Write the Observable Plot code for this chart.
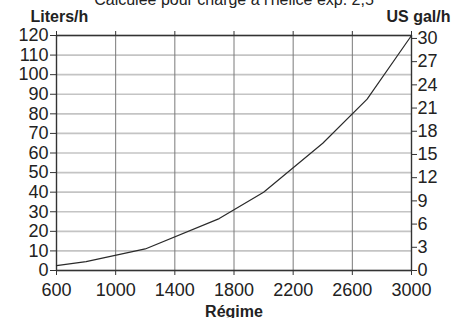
<!DOCTYPE html>
<html>
<head>
<meta charset="utf-8">
<script src="https://cdn.jsdelivr.net/npm/d3@7"></script>
<script src="https://cdn.jsdelivr.net/npm/@observablehq/plot@0.6"></script>
<style>
  html, body { margin: 0; padding: 0; background: #fff; overflow: hidden; }
  #chart svg { display: block; }
</style>
</head>
<body>
<div id="chart"></div>
<script>
// Data
const rpm = [600, 800, 1200, 1700, 2000, 2400, 2700, 3000];
const litersPerHour = [2.5, 4.5, 11, 26.5, 40, 65, 87.5, 120];

// Tick values
const xTicks = [600, 1000, 1400, 1800, 2200, 2600, 3000];
const literTicks = [0, 10, 20, 30, 40, 50, 60, 70, 80, 90, 100, 110, 120];
const galTicks = [0, 3, 6, 9, 12, 15, 18, 21, 24, 27, 30];
const litersPerGalAsDrawn = 3.95; // right scale as printed on the reference

// Texts
const titleText = "Calculée pour charge à l'hélice exp. 2,5";
const leftUnit = "Liters/h";
const rightUnit = "US gal/h";
const xLabel = "Régime";

const data = rpm.map((r, i) => ({rpm: r, lph: litersPerHour[i]}));
const font = "Liberation Sans, Arial, Helvetica, sans-serif";

const chart = Plot.plot({
  width: 465,
  height: 318,
  marginTop: 35,
  marginRight: 54,
  marginBottom: 48,
  marginLeft: 56,
  style: {fontFamily: font, fontSize: "18px", color: "#222", background: "#fff", overflow: "visible"},
  x: {domain: [600, 3000]},
  y: {domain: [0, 120]},
  marks: [
    Plot.gridY(literTicks, {stroke: "#c4c4c4", strokeOpacity: 1, strokeWidth: 1.6}),
    Plot.gridX(xTicks, {stroke: "#7a7a7a", strokeOpacity: 1, strokeWidth: 1}),
    Plot.ruleY([0, 120], {stroke: "#333", strokeWidth: 1.4}),
    Plot.ruleX([600, 3000], {stroke: "#333", strokeWidth: 1.4}),
    Plot.line(data, {x: "rpm", y: "lph", stroke: "#2a2a2a", strokeWidth: 1.2}),
    Plot.axisY(literTicks, {anchor: "left", tickSize: 6, tickPadding: 2, label: null, fontSize: 18, stroke: "#333"}),
    Plot.axisY(galTicks.map(g => g * litersPerGalAsDrawn), {
      anchor: "right", tickSize: 5, tickPadding: 1, label: null, fontSize: 18, stroke: "#333",
      tickFormat: d => String(Math.round(d / litersPerGalAsDrawn))
    }),
    Plot.axisX(xTicks, {anchor: "bottom", tickSize: 5, tickPadding: 8, label: null, fontSize: 18, stroke: "#333", tickFormat: d => String(d)}),
    Plot.axisX(xTicks, {anchor: "top", tickSize: 5, label: null, tickFormat: () => "", stroke: "#333"}),
    Plot.text([titleText], {frameAnchor: "top", dy: -31, lineAnchor: "bottom", fontSize: 16, fill: "#222"}),
    Plot.text([leftUnit], {frameAnchor: "top-left", textAnchor: "start", dx: -26, dy: -14, lineAnchor: "bottom", fontSize: 16, fontWeight: "bold", fill: "#222"}),
    Plot.text([rightUnit], {frameAnchor: "top-right", textAnchor: "end", dx: 39, dy: -14, lineAnchor: "bottom", fontSize: 16, fontWeight: "bold", fill: "#222"}),
    Plot.text([xLabel], {frameAnchor: "bottom", dy: 46, lineAnchor: "bottom", fontSize: 16, fontWeight: "bold", fill: "#222"})
  ]
});

document.getElementById("chart").appendChild(chart);
</script>
</body>
</html>
